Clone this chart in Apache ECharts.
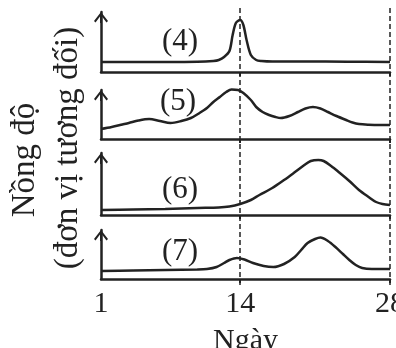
<!DOCTYPE html>
<html>
<head>
<meta charset="utf-8">
<script src="https://cdn.jsdelivr.net/npm/echarts@6.0.0/dist/echarts.min.js"></script>
<style>
  html, body { margin: 0; padding: 0; background: #fff; }
  #main { width: 396px; height: 348px; }
</style>
</head>
<body>
<div id="main"></div>
<script>
// du lieu doc tu hinh: ngay trong chu ky va nong do tuong doi
var days4 = [1, 4, 7, 10, 11.5, 12, 12.5, 13, 13.3, 13.6, 14, 14.3, 14.6, 15, 15.5, 16, 17, 20, 24, 28];
var vals4 = [10, 10, 10, 10.2, 11, 12, 15, 21, 37, 49, 52, 47, 32, 17, 12, 11, 10.5, 10.5, 10.3, 10];

var days5 = [1, 2, 3, 3.6, 4.5, 5.5, 6.5, 7.5, 8.5, 9.4, 10.2, 10.9, 11.5, 12.1, 12.7, 13.2, 13.8, 14.3, 15, 15.5,
             16.1, 16.7, 17.3, 17.8, 18.6, 19.4, 20.1, 20.8, 21.5, 22.2, 23, 23.9, 24.5, 25.1, 26, 27, 28];
var vals5 = [10, 12, 14.5, 16, 18.5, 20, 18, 16, 18, 21, 26, 31, 37, 42, 47, 49.5, 49, 46, 39, 32,
             27, 24, 22, 21, 23, 27, 30.5, 32, 30.5, 27, 23, 19, 16.5, 15, 14.3, 14, 14];

var days6 = [1, 4, 7, 10, 12, 13, 14, 15, 15.8, 17, 18.1, 19, 20, 20.6, 21.3, 21.8, 22.5, 23.2, 24.2, 25.1, 26, 26.7, 27.3, 28];
var vals6 = [5, 5.5, 6, 7, 7.5, 8.5, 11, 15, 20, 27, 35, 42, 50, 54, 55, 54, 49, 43, 34, 25, 18, 13, 11, 10];

var days7 = [1, 4, 7, 10, 10.9, 11.8, 12.5, 13, 13.7, 14.4, 15.2, 16.2, 17.1, 18.1, 19.1, 19.7, 20.3, 21, 21.5,
             22.2, 22.9, 23.6, 24.2, 24.8, 25.4, 26.3, 28];
var vals7 = [8, 8.5, 9, 9.5, 10, 12, 16, 19, 21, 19.5, 16, 13, 12, 15, 22, 29, 36, 40, 41.5,
             38, 32, 25, 19, 14, 11, 10, 10];

var panelNames = ['(4)', '(5)', '(6)', '(7)'];
var dayTicks = [1, 14, 28];
var refDays = [14, 28];

var allDays = [days4, days5, days6, days7];
var allVals = [vals4, vals5, vals6, vals7];

// vi tri cac o (pixel)
var panelTop = [12, 90, 153, 230];
var panelHeight = [60, 49, 62, 49];
var namePos = [[180, 42], [178, 102], [180, 190], [180, 252]];

var ink = '#222';
var serif = '"Liberation Serif", "DejaVu Serif", serif';
var arrow = 'path://M7,0 L14,9 L12.5,10.5 L8,4.5 L8,11 L6,11 L6,4.5 L1.5,10.5 L0,9 Z';

var myChart = echarts.init(document.getElementById('main'));

var grid = [], xAxis = [], yAxis = [], series = [], graphic = [];

for (var i = 0; i < 4; i++) {
    grid.push({ left: 101, width: 289, top: panelTop[i], height: panelHeight[i], outerBoundsMode: 'none', containLabel: false });
    var last = i === 3;
    xAxis.push({
        type: 'value', gridIndex: i, min: 1, max: 28,
        axisLine: { lineStyle: { color: ink, width: 2.5 } },
        axisTick: { show: true, customValues: refDays, length: 4, lineStyle: { color: ink, width: 2 } },
        axisLabel: {
            show: last, customValues: dayTicks, margin: 10,
            color: ink, fontFamily: serif, fontSize: 30
        },
        splitLine: { show: false },
        name: last ? 'Ngày' : '',
        nameLocation: 'middle', nameGap: 47,
        nameTextStyle: { color: ink, fontFamily: serif, fontSize: 30 }
    });
    yAxis.push({
        type: 'value', gridIndex: i, min: 0, max: panelHeight[i],
        axisLine: {
            show: true, lineStyle: { color: ink, width: 2.5 },
            symbol: ['none', arrow], symbolSize: [14, 11], symbolOffset: [0, -5.5]
        },
        axisTick: { show: false }, axisLabel: { show: false }, splitLine: { show: false }
    });
    var pts = [];
    for (var k = 0; k < allDays[i].length; k++) pts.push([allDays[i][k], allVals[i][k]]);
    series.push({
        type: 'line', xAxisIndex: i, yAxisIndex: i, data: pts,
        smooth: 0.3, showSymbol: false, clip: false,
        lineStyle: { color: ink, width: 2.5 }
    });
    graphic.push({
        type: 'text', x: namePos[i][0], y: namePos[i][1],
        style: { text: panelNames[i], font: '31px ' + serif, fill: ink, align: 'center', verticalAlign: 'middle', textAlign: 'center', textVerticalAlign: 'middle' }
    });
}

// o phu de ve duong net dut tai ngay 14 va 28
grid.push({ left: 101, width: 289, top: 8, height: 277, outerBoundsMode: 'none', containLabel: false });
xAxis.push({ type: 'value', gridIndex: 4, min: 1, max: 28, show: false });
yAxis.push({ type: 'value', gridIndex: 4, min: 0, max: 1, show: false });
var refLines = [];
for (var r = 0; r < refDays.length; r++) refLines.push({ xAxis: refDays[r] });
series.push({
    type: 'line', xAxisIndex: 4, yAxisIndex: 4, data: [],
    markLine: {
        silent: true, symbol: 'none', label: { show: false },
        lineStyle: { color: ink, width: 1.5, type: [5, 3] },
        data: refLines
    }
});

// nhan truc tung (xoay doc)
graphic.push({
    type: 'text', x: 25, y: 160, rotation: Math.PI / 2,
    style: { text: 'Nồng độ', font: '33px ' + serif, fill: ink, align: 'center', verticalAlign: 'middle', textAlign: 'center', textVerticalAlign: 'middle' }
});
graphic.push({
    type: 'text', x: 68, y: 148, rotation: Math.PI / 2,
    style: { text: '(đơn vị tương đối)', font: '33px ' + serif, fill: ink, align: 'center', verticalAlign: 'middle', textAlign: 'center', textVerticalAlign: 'middle' }
});

var option = {
    backgroundColor: '#fff',
    animation: false,
    grid: grid,
    xAxis: xAxis,
    yAxis: yAxis,
    series: series,
    graphic: graphic
};
myChart.setOption(option);
</script>
</body>
</html>
